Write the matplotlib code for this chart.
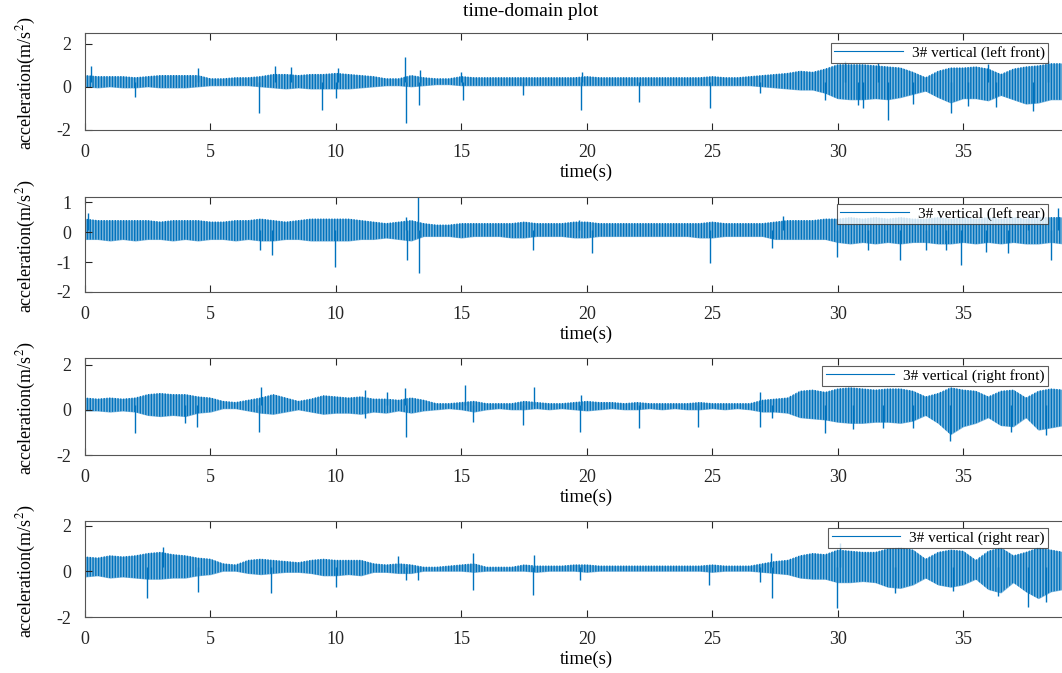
import numpy as np
import matplotlib
matplotlib.use("Agg")
import matplotlib.pyplot as plt

plt.rcParams['font.family'] = ['Liberation Serif', 'DejaVu Serif']
plt.rcParams['mathtext.fontset'] = 'stix'
plt.rcParams['axes.unicode_minus'] = False
plt.rcParams['hatch.linewidth'] = 1.0

# envelope of each record, read every 0.5 s (upper / lower edge of the trace)
lf_hi = [0.55, 0.5, 0.5, 0.5, 0.45, 0.5, 0.55, 0.55, 0.55, 0.55,
         0.4, 0.4, 0.45, 0.45, 0.5, 0.6, 0.6, 0.55, 0.6, 0.6,
         0.65, 0.6, 0.55, 0.5, 0.4, 0.4, 0.55, 0.45, 0.4, 0.4,
         0.5, 0.45, 0.45, 0.45, 0.45, 0.45, 0.45, 0.45, 0.45, 0.45,
         0.5, 0.45, 0.45, 0.45, 0.45, 0.45, 0.45, 0.45, 0.45, 0.45,
         0.5, 0.45, 0.45, 0.5, 0.55, 0.6, 0.65, 0.75, 0.7, 0.85,
         1.05, 1.05, 1.05, 1.0, 0.95, 0.9, 0.7, 0.45, 0.75, 0.9,
         0.9, 0.95, 0.85, 0.6, 0.85, 0.95, 1.0, 1.1, 1.1, 1.1]
lf_lo = [0.0, -0.05, 0.0, -0.05, -0.05, 0.0, -0.05, -0.05, -0.05, 0.0,
         0.05, 0.05, 0.05, 0.05, 0.0, -0.05, -0.1, -0.05, -0.1, -0.1,
         -0.1, -0.1, -0.05, 0.0, 0.05, 0.05, 0.0, 0.05, 0.1, 0.1,
         0.05, 0.05, 0.05, 0.05, 0.05, 0.05, 0.05, 0.05, 0.05, 0.05,
         0.05, 0.05, 0.05, 0.05, 0.05, 0.05, 0.05, 0.05, 0.05, 0.05,
         0.05, 0.05, 0.05, 0.05, 0.0, -0.05, -0.1, -0.15, -0.15, -0.3,
         -0.55, -0.6, -0.6, -0.55, -0.6, -0.5, -0.35, -0.2, -0.5, -0.75,
         -0.55, -0.55, -0.65, -0.4, -0.6, -0.8, -0.75, -0.6, -0.6, -0.6]

lr_hi = [0.45, 0.4, 0.4, 0.4, 0.4, 0.4, 0.35, 0.4, 0.4, 0.4,
         0.35, 0.35, 0.4, 0.4, 0.45, 0.4, 0.35, 0.4, 0.45, 0.45,
         0.45, 0.45, 0.4, 0.35, 0.3, 0.35, 0.4, 0.3, 0.25, 0.25,
         0.3, 0.3, 0.3, 0.3, 0.3, 0.35, 0.3, 0.3, 0.3, 0.35,
         0.35, 0.3, 0.3, 0.3, 0.3, 0.3, 0.3, 0.3, 0.3, 0.3,
         0.35, 0.3, 0.3, 0.3, 0.3, 0.35, 0.4, 0.4, 0.4, 0.45,
         0.45, 0.5, 0.45, 0.5, 0.45, 0.5, 0.45, 0.45, 0.5, 0.45,
         0.5, 0.45, 0.5, 0.45, 0.5, 0.45, 0.5, 0.5, 0.5, 0.5]
lr_lo = [-0.25, -0.25, -0.3, -0.25, -0.3, -0.25, -0.25, -0.3, -0.25, -0.3,
         -0.25, -0.25, -0.3, -0.25, -0.3, -0.3, -0.25, -0.25, -0.3, -0.3,
         -0.3, -0.3, -0.25, -0.25, -0.2, -0.25, -0.3, -0.15, -0.15, -0.15,
         -0.2, -0.15, -0.15, -0.15, -0.2, -0.2, -0.15, -0.15, -0.15, -0.2,
         -0.2, -0.15, -0.15, -0.15, -0.15, -0.15, -0.15, -0.15, -0.15, -0.2,
         -0.2, -0.15, -0.15, -0.15, -0.15, -0.25, -0.25, -0.25, -0.25, -0.25,
         -0.35, -0.4, -0.35, -0.4, -0.35, -0.4, -0.35, -0.35, -0.4, -0.4,
         -0.35, -0.4, -0.35, -0.4, -0.35, -0.4, -0.4, -0.35, -0.4, -0.4]

rf_hi = [0.55, 0.5, 0.55, 0.5, 0.55, 0.7, 0.75, 0.7, 0.7, 0.6,
         0.55, 0.4, 0.35, 0.45, 0.55, 0.7, 0.55, 0.4, 0.5, 0.65,
         0.6, 0.55, 0.6, 0.5, 0.5, 0.45, 0.55, 0.45, 0.3, 0.3,
         0.35, 0.4, 0.3, 0.3, 0.3, 0.4, 0.35, 0.3, 0.3, 0.35,
         0.4, 0.35, 0.35, 0.3, 0.35, 0.3, 0.3, 0.3, 0.3, 0.35,
         0.3, 0.3, 0.3, 0.3, 0.45, 0.5, 0.55, 0.85, 0.9, 0.8,
         0.95, 1.0, 0.95, 0.9, 0.95, 0.95, 0.85, 0.6, 0.75, 1.0,
         0.9, 0.85, 0.6, 0.85, 0.9, 0.55, 0.85, 0.95, 0.9, 0.9]
rf_lo = [-0.05, -0.05, -0.1, -0.05, -0.1, -0.25, -0.3, -0.25, -0.3, -0.15,
         -0.1, 0.05, 0.05, -0.05, -0.15, -0.2, -0.1, 0.0, -0.1, -0.2,
         -0.15, -0.15, -0.2, -0.1, -0.15, -0.05, -0.15, -0.05, 0.0, 0.05,
         0.0, -0.1, 0.0, 0.05, 0.0, 0.0, 0.05, 0.0, 0.05, 0.0,
         -0.05, 0.0, 0.05, 0.0, 0.0, 0.05, 0.0, 0.05, 0.0, 0.0,
         0.05, 0.0, 0.05, 0.0, -0.1, -0.1, -0.15, -0.35, -0.4, -0.45,
         -0.55, -0.6, -0.6, -0.55, -0.55, -0.6, -0.5, -0.25, -0.6, -1.1,
         -0.75, -0.6, -0.35, -0.7, -0.75, -0.35, -0.9, -0.8, -0.7, -0.7]

rr_hi = [0.65, 0.6, 0.7, 0.65, 0.7, 0.8, 0.85, 0.75, 0.7, 0.6,
         0.55, 0.35, 0.3, 0.5, 0.55, 0.5, 0.45, 0.4, 0.5, 0.55,
         0.5, 0.5, 0.5, 0.35, 0.3, 0.35, 0.3, 0.2, 0.2, 0.25,
         0.3, 0.35, 0.2, 0.2, 0.2, 0.3, 0.25, 0.25, 0.25, 0.3,
         0.3, 0.25, 0.25, 0.25, 0.25, 0.25, 0.25, 0.25, 0.25, 0.25,
         0.3, 0.25, 0.25, 0.25, 0.35, 0.45, 0.5, 0.7, 0.8, 0.75,
         0.95, 0.9, 0.85, 0.85, 1.0, 1.05, 0.95, 0.55, 0.85, 0.95,
         0.9, 0.5, 0.9, 1.05, 0.7, 0.85, 1.05, 0.95, 0.85, 0.85]
rr_lo = [-0.25, -0.2, -0.3, -0.25, -0.3, -0.35, -0.35, -0.3, -0.3, -0.2,
         -0.15, 0.0, 0.0, -0.1, -0.15, -0.1, -0.05, -0.05, -0.1, -0.2,
         -0.2, -0.15, -0.2, -0.05, -0.05, -0.1, -0.1, 0.0, 0.0, 0.0,
         0.0, -0.05, 0.0, 0.0, 0.0, 0.0, -0.05, 0.0, 0.0, 0.0,
         -0.05, 0.0, 0.0, 0.0, 0.0, 0.0, 0.0, 0.0, 0.0, 0.0,
         -0.05, 0.0, 0.0, 0.0, -0.05, -0.1, -0.15, -0.3, -0.35, -0.35,
         -0.5, -0.5, -0.45, -0.5, -0.7, -0.75, -0.6, -0.3, -0.6, -0.7,
         -0.6, -0.35, -0.8, -0.95, -0.5, -0.9, -1.2, -0.9, -0.8, -0.8]

# isolated peaks (time s, value) and the mean level they leave from
lf_spk = [(0.25, 0.95), (2.0, -0.48), (4.5, 0.87), (6.94, -1.2), (7.57, 0.95),
          (8.2, 0.9), (9.45, -1.07), (10.0, -0.5), (10.1, 0.87), (12.75, 1.4),
          (12.78, -1.68), (13.3, -0.83), (13.35, 0.79), (15.0, 0.71), (15.07, -0.6),
          (17.44, -0.37), (19.77, -1.06), (19.8, 0.71), (22.1, -0.68), (24.9, -0.97),
          (26.9, -0.3), (29.5, -0.6), (30.3, 1.2), (30.8, -0.85), (31.0, -1.0),
          (31.6, 1.1), (32.0, -1.53), (33.0, -0.8), (34.5, -1.22), (35.2, -0.9),
          (36.0, 1.05), (36.3, -0.95), (37.8, -1.14), (38.4, 1.2)]
lr_spk = [(0.1, 0.62), (6.97, -0.6), (7.44, -0.77), (9.96, -1.16), (12.8, 0.5),
          (12.82, -0.93), (13.27, 1.25), (13.3, -1.38), (17.87, -0.6), (19.7, 0.4),
          (20.2, -0.71), (24.9, -1.04), (27.4, -0.54), (27.8, 0.55), (29.96, -0.82),
          (31.2, -0.6), (32.5, -0.93), (33.5, -0.6), (34.3, -0.6), (34.9, -1.1),
          (35.9, -0.66), (36.8, -0.7), (37.6, 0.6), (38.5, -0.93), (38.8, 0.79)]
rf_spk = [(1.99, -1.03), (3.98, -0.59), (4.45, -0.77), (6.95, -0.96), (7.0, 1.03),
          (11.16, -0.37), (11.16, 0.89), (12.02, 0.8), (12.75, 0.96), (12.78, -1.18),
          (15.15, 1.1), (15.47, -0.52), (17.44, -0.66), (17.9, 1.0), (19.73, -0.96),
          (19.75, 0.66), (22.08, -0.81), (24.43, -0.74), (26.9, 0.81), (26.92, -0.74),
          (27.37, -0.37), (29.5, -1.03), (30.6, -0.85), (31.8, -0.8), (33.0, -0.8),
          (34.48, -1.4), (36.9, -1.0), (38.3, -1.1)]
rr_spk = [(2.46, -1.18), (3.1, 1.08), (4.49, -0.89), (7.4, -0.96), (10.0, -0.7),
          (12.48, 0.65), (12.8, -0.38), (13.27, -0.38), (15.45, 0.79), (15.47, -0.82),
          (17.86, -1.03), (17.9, 0.71), (19.73, -0.38), (24.87, -0.6), (26.9, -0.45),
          (27.35, 0.79), (27.37, -1.18), (29.96, -1.62), (30.1, 1.22), (32.3, -0.95),
          (34.6, -0.85), (36.4, -1.1), (37.6, -1.55), (38.3, -1.35)]
means = [0.25, 0.07, 0.22, 0.2]

labels = ['3# vertical (left front)', '3# vertical (left rear)',
          '3# vertical (right front)', '3# vertical (right rear)']
yticks = [[-2, 0, 2], [-2, -1, 0, 1], [-2, 0, 2], [-2, 0, 2]]
ylims = [(-2, 2.5), (-2, 1.17), (-2, 2.3), (-2, 2.2)]
xticks = [0, 5, 10, 15, 20, 25, 30, 35]

his = [lf_hi, lr_hi, rf_hi, rr_hi]
los = [lf_lo, lr_lo, rf_lo, rr_lo]
spks = [lf_spk, lr_spk, rf_spk, rr_spk]

W, H = 1062, 673
blue = '#0072BD'
fig = plt.figure(figsize=(W / 100, H / 100), dpi=100)

# panel boxes in pixels: top, bottom (x from 85 px, 40 s wide -> runs past the right edge)
boxes = [(33, 130), (197, 292), (358, 455), (521, 617)]
leg_top = [43, 204, 366, 528]

for i in range(4):
    top, bot = boxes[i]
    ax = fig.add_axes([85 / W, 1 - bot / H, 1003.6 / W, (bot - top) / H])
    hi = np.array(his[i])
    lo = np.array(los[i])
    t = np.arange(len(hi)) * 0.5
    # light body + dense vertical strokes for the oscillation
    ax.fill_between(t, lo, hi, color=blue, alpha=0.5, lw=0)
    ax.fill_between(t, lo, hi, facecolor='none', edgecolor=blue, hatch='||||||', lw=0)
    ax.plot([], [], color=blue, lw=0.8, label=labels[i])
    st = [s[0] for s in spks[i]]
    sv = [s[1] for s in spks[i]]
    ax.vlines(st, means[i], sv, color=blue, lw=1.0)

    ax.set_xlim(0, 40)
    ax.set_ylim(*ylims[i])
    ax.set_xticks(xticks)
    ax.set_yticks(yticks[i])
    ax.tick_params(direction='in', top=True, right=True, length=5, width=0.8,
                   labelsize=13, colors='#262626', pad=10)
    for sp in ax.spines.values():
        sp.set_color('#555555')
        sp.set_linewidth(0.8)
    ax.set_xlabel('time(s)', fontsize=13.5, labelpad=2)
    ax.set_ylabel(r'acceleration(m/s$^2$)', fontsize=13)
    ax.yaxis.set_label_coords(-0.047, 0.48)

    leg = ax.legend(loc='upper right', bbox_to_anchor=(1048 / W, 1 - leg_top[i] / H),
                    bbox_transform=fig.transFigure, fontsize=11, frameon=True,
                    fancybox=False, handlelength=4.5, handletextpad=0.6,
                    borderpad=0.2, borderaxespad=0)
    leg.get_frame().set_edgecolor('#333333')
    leg.get_frame().set_linewidth(0.8)

fig.text(0.5, 1 - 12 / H, 'time-domain plot', ha='center', va='center', fontsize=14)

fig.savefig('out.png', dpi=100)
